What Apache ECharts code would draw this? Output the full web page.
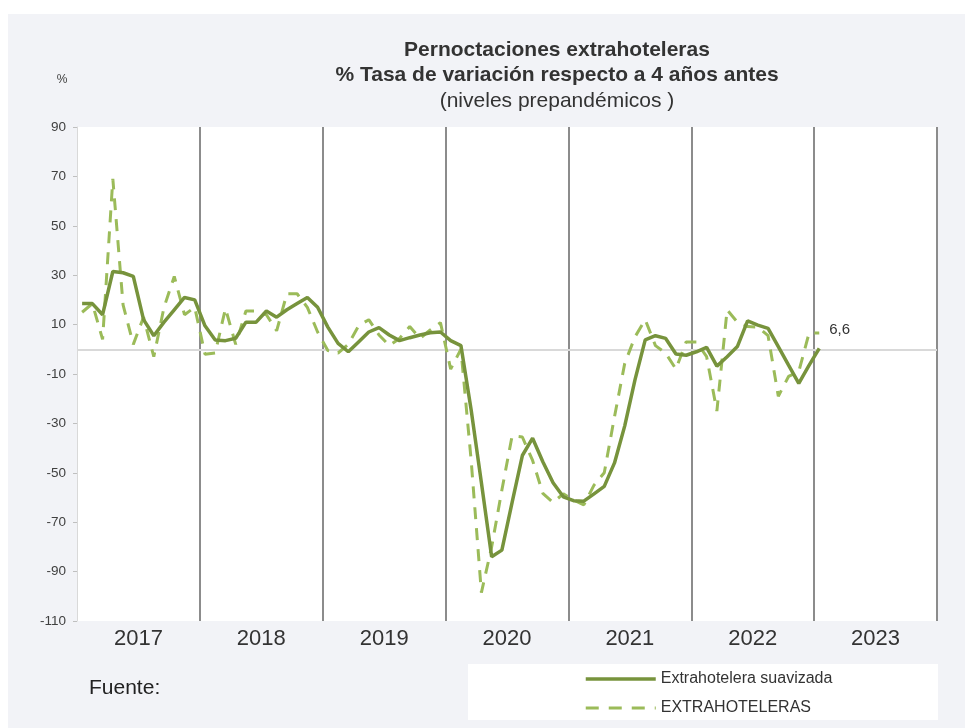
<!DOCTYPE html>
<html>
<head>
<meta charset="utf-8">
<script src="https://cdn.jsdelivr.net/npm/echarts@6/dist/echarts.min.js"></script>
<style>
	body { margin: 0; background: #fff; }
	#main { width: 965px; height: 728px; }
</style>
</head>
<body>
<div id="main"></div>
<script>
const years = ['2017', '2018', '2019', '2020', '2021', '2022', '2023']
const yTicks = [-110, -90, -70, -50, -30, -10, 10, 30, 50, 70, 90]

// monthly values, Jan 2017 .. Jan 2023
const suavizada = [
	18.5, 18.5, 14, 31.5, 31, 29.5, 12, 5.5, 11, 16, 21, 20,
	9.5, 3.8, 3.5, 4.5, 11, 11, 15.5, 13, 16, 18.5, 21, 17,
	9, 2.4, -1, 3, 7, 8.8, 5.8, 3.5, 4.7, 5.8, 6.7, 7,
	3.5, 1.5, -24.6, -54, -84, -81.3, -62, -43, -36, -45.5, -54, -59.7,
	-61.3, -61.5, -58.5, -55.5, -46, -31, -12.4, 3.8, 5.5, 4.4, -1.9, -2.4,
	-1, 0.8, -6.8, -3, 1.1, 11.5, 9.8, 8.5, 1.1, -6.4, -13.8, -6.5,
	0.4
]
const extrahoteleras = [
	15, 18.5, 4, 69, 18, 2, 13, -3, 17, 29.5, 14, 17,
	-2, -1.5, 16.5, 2, 15.5, 15.5, 14, 7.5, 22.5, 22.5, 17, 7,
	-0.5, -1.5, 2, 9.5, 12, 5.8, 1.5, 4.4, 9.2, 4.4, 7.8, 10.8,
	-8, 0, -45, -98.5, -80, -57, -35, -35.5, -45, -58.3, -62, -58.5,
	-61, -63, -55, -50, -27.3, -5.7, 5, 12, 1.5, -1.6, -8, 3,
	3, -3, -25, 16, 11, 9.2, 9, 5.5, -19, -11, -9, 6.5,
	6.6
]

const font = '"Liberation Sans", Arial, sans-serif'
const solidColor = '#77933c'
const dashColor = '#9bbb59'
// point i sits in the middle of its month slot
const toPoints = arr => arr.map((v, i) => [i + 0.5, v])

const chart = echarts.init(document.getElementById('main'))

const option = {
	backgroundColor: '#fff',
	animation: false,
	textStyle: { fontFamily: font },
	graphic: [
		{ type: 'rect', z: -10, shape: { x: 8, y: 14, width: 957, height: 714 }, style: { fill: '#f2f3f7' } },
		{ type: 'rect', z: -5, shape: { x: 468, y: 664, width: 470, height: 56 }, style: { fill: '#fff' } },
		{ type: 'text', x: 557, y: 50, style: { text: 'Pernoctaciones extrahoteleras', font: 'bold 21px ' + font, fill: '#333', align: 'center', verticalAlign: 'middle' } },
		{ type: 'text', x: 557, y: 75, style: { text: '% Tasa de variación respecto a 4 años antes', font: 'bold 21px ' + font, fill: '#333', align: 'center', verticalAlign: 'middle' } },
		{ type: 'text', x: 557, y: 101, style: { text: '(niveles prepandémicos )', font: '21px ' + font, fill: '#333', align: 'center', verticalAlign: 'middle' } },
		{ type: 'text', x: 62, y: 80, style: { text: '%', font: '12px ' + font, fill: '#404040', align: 'center', verticalAlign: 'middle' } },
		{ type: 'text', x: 89, y: 688, style: { text: 'Fuente:', font: '21px ' + font, fill: '#222', verticalAlign: 'middle' } }
	],
	grid: {
		left: 77,
		top: 127,
		width: 860,
		height: 494,
		show: true,
		backgroundColor: '#fff',
		borderWidth: 0
	},
	legend: {
		orient: 'vertical',
		left: 579,
		top: 666,
		itemWidth: 70,
		itemHeight: 14,
		itemGap: 13,
		textStyle: { fontSize: 16, color: '#333', fontFamily: font },
		// hide the symbol the line legend icon adds
		itemStyle: { color: 'transparent', borderWidth: 0, opacity: 0 },
		data: [
			{ name: 'Extrahotelera suavizada', lineStyle: { color: solidColor, width: 3.5 } },
			{ name: 'EXTRAHOTELERAS', lineStyle: { color: dashColor, width: 3, type: [13, 10] } }
		]
	},
	xAxis: [
		{
			type: 'value',
			min: 0,
			max: 84,
			interval: 12,
			axisLine: { show: false },
			axisTick: { show: false },
			axisLabel: { show: false },
			splitLine: { show: true, showMinLine: false, lineStyle: { color: '#8c8c8c', width: 2 } }
		},
		{
			type: 'category',
			position: 'bottom',
			data: years,
			boundaryGap: true,
			axisLine: { show: false },
			axisTick: { show: false },
			splitLine: { show: false },
			axisLabel: { fontSize: 22, color: '#333', margin: 7 }
		}
	],
	yAxis: {
		type: 'value',
		min: yTicks[0],
		max: yTicks[yTicks.length - 1],
		interval: 20,
		axisLine: { show: true, lineStyle: { color: '#d9d9d9', width: 1 } },
		axisTick: { show: true, length: 4, lineStyle: { color: '#bfbfbf' } },
		axisLabel: { fontSize: 13.5, color: '#404040', margin: 11 },
		splitLine: { show: false }
	},
	series: [
		{
			name: 'Extrahotelera suavizada',
			type: 'line',
			xAxisIndex: 0,
			symbol: 'none',
			z: 4,
			lineStyle: { color: solidColor, width: 3.5 },
			itemStyle: { color: solidColor },
			data: toPoints(suavizada),
			markLine: {
				silent: true,
				z: 1,
				symbol: 'none',
				label: { show: false },
				lineStyle: { color: '#d9d9d9', width: 2, type: 'solid' },
				data: [{ yAxis: 0 }]
			}
		},
		{
			name: 'EXTRAHOTELERAS',
			type: 'line',
			xAxisIndex: 0,
			symbol: 'none',
			z: 3,
			lineStyle: { color: dashColor, width: 3, type: [12, 9] },
			itemStyle: { color: dashColor },
			data: toPoints(extrahoteleras),
			endLabel: {
				show: true,
				formatter: '6,6',
				fontSize: 15,
				color: '#333',
				distance: 10,
				offset: [0, -3]
			}
		}
	]
}

chart.setOption(option)
</script>
</body>
</html>
